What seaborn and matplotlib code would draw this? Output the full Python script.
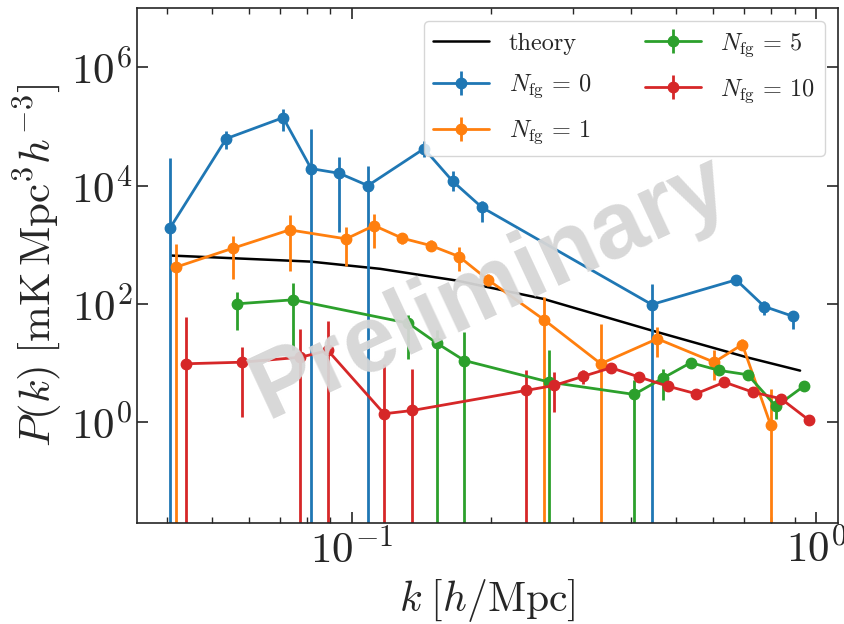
import numpy as np
import matplotlib
matplotlib.use("Agg")
import matplotlib.pyplot as plt
import seaborn as sns
from matplotlib.ticker import NullLocator

# theory curve
k_theory = [0.0410, 0.0814, 0.1152, 0.1684, 0.2588, 0.4428, 0.7094, 0.9239]
p_theory = [658, 521, 393, 249, 122, 35.7, 12.6, 7.5]

# N_fg = 0
k_0 = [0.0407, 0.0537, 0.0712, 0.0818, 0.0941, 0.1084, 0.1432, 0.1651, 0.1907,
       0.4429, 0.6728, 0.7740, 0.8908]
p_0 = [1955, 62100, 140600, 19360, 16130, 10000, 42100, 11820, 4300,
       98, 256, 90.7, 62.2]
lo_0 = [1e-3, 42100, 84800, 1e-3, 1629, 1e-3, 30850, 8010, 2403,
        1e-3, 211, 64, 38.1]
hi_0 = [29700, 84800, 199500, 91600, 30050, 21760, 57450, 17430, 5585,
        219, 311, 114.5, 77.6]

# N_fg = 1
k_1 = [0.0418, 0.0555, 0.0735, 0.0973, 0.1118, 0.1286, 0.1481, 0.1703, 0.1963,
       0.2597, 0.3440, 0.4551, 0.6033, 0.6938, 0.7991]
p_1 = [418, 875, 1787, 1260, 2113, 1291, 971, 634, 259,
       54.1, 9.79, 25.9, 10.4, 20.7, 0.89]
lo_1 = [1e-3, 266, 367, 446, 889, 1050, 778, 367, 205,
        1e-3, 1e-3, 12.6, 5.11, 17.1, 1e-3]
hi_1 = [1038, 1432, 3205, 1978, 3327, 1549, 1212, 934, 327,
        130, 46.3, 40.6, 16.4, 25.2, 3.70]

# N_fg = 5
k_5 = [0.0566, 0.0749, 0.1325, 0.1526, 0.1749, 0.2666, 0.4058, 0.4677, 0.5373,
       0.6190, 0.7129, 0.8203, 0.9436]
p_5 = [100.8, 117.8, 47.4, 21.8, 11.1, 4.79, 2.97, 5.59, 10.2,
       7.55, 6.38, 1.86, 4.16]
lo_5 = [35.7, 16.4, 12.0, 1e-3, 1e-3, 1e-3, 1e-3, 2.35, 8.8,
        6.8, 5.7, 1.15, 3.8]
hi_5 = [158, 224, 64, 35.7, 33.4, 16.9, 5.11, 8.06, 12.0,
        8.4, 7.1, 2.67, 4.6]

# N_fg = 10
k_10 = [0.0440, 0.0580, 0.0775, 0.0889, 0.1175, 0.1351, 0.2375, 0.2729, 0.3146,
        0.3620, 0.4165, 0.4794, 0.5517, 0.6349, 0.7306, 0.8409, 0.9674]
p_10 = [9.79, 10.4, 12.6, 16.4, 1.40, 1.59, 3.47, 4.21, 5.98,
        8.38, 5.82, 4.10, 3.05, 4.79, 3.25, 2.51, 1.08]
lo_10 = [1e-3, 1.23, 1e-3, 1e-3, 1e-3, 1e-3, 1e-3, 1.49, 4.50,
         7.6, 5.3, 3.7, 2.75, 4.3, 2.95, 2.28, 0.98]
hi_10 = [59.8, 18.7, 38.1, 52.6, 9.79, 8.06, 7.55, 7.06, 7.55,
         9.2, 6.4, 4.5, 3.35, 5.3, 3.6, 2.76, 1.19]

labels = [r"$N_{\rm fg}\,=\,0$", r"$N_{\rm fg}\,=\,1$",
          r"$N_{\rm fg}\,=\,5$", r"$N_{\rm fg}\,=\,10$"]

sns.set_style("ticks")
plt.rcParams["font.family"] = "serif"
plt.rcParams["font.serif"] = ["cmr10", "DejaVu Serif"]
plt.rcParams["mathtext.fontset"] = "cm"
plt.rcParams["axes.formatter.use_mathtext"] = True
plt.rcParams["axes.unicode_minus"] = False

colors = sns.color_palette("tab10")

fig = plt.figure(figsize=(8.44, 6.24), dpi=100)
ax = fig.add_axes([137 / 844, 1 - 523 / 624, 701 / 844, 515 / 624])

sns.lineplot(x=k_theory, y=p_theory, color="black", lw=1.8, label="theory", ax=ax)

series = [(k_0, p_0, lo_0, hi_0), (k_1, p_1, lo_1, hi_1),
          (k_5, p_5, lo_5, hi_5), (k_10, p_10, lo_10, hi_10)]
for i, (k, p, lo, hi) in enumerate(series):
    p = np.array(p)
    yerr = [p - np.array(lo), np.array(hi) - p]
    ax.errorbar(k, p, yerr=yerr, fmt="o-", color=colors[i], ms=7.5, lw=2,
                elinewidth=2, capsize=0, label=labels[i])

ax.set_xscale("log")
ax.set_yscale("log")
ax.set_xlim(0.0345, 1.115)
ax.set_ylim(0.02, 1e7)
ax.set_yticks([1e0, 1e2, 1e4, 1e6])
ax.yaxis.set_minor_locator(NullLocator())

ax.tick_params(which="both", direction="in", top=True, right=True, labelsize=31)
ax.tick_params(which="major", length=8, width=1.2)
ax.tick_params(which="minor", length=4, width=1)
for s in ax.spines.values():
    s.set_linewidth(1.2)

ax.set_xlabel(r"$k\;[h/{\rm Mpc}]$", fontsize=30)
ax.set_ylabel(r"$P(k)\;[{\rm mK\,Mpc}^3 h^{-3}]$", fontsize=31, labelpad=4)

ax.legend(loc="upper right", ncol=2, fontsize=17.5, handlelength=2.3,
          labelspacing=0.75, columnspacing=2.2, borderaxespad=0.55)

fig.text(490 / 844, 1 - 288 / 624, "Preliminary", fontsize=68, fontweight="bold",
         family="Liberation Sans", color="#d6d6d6", alpha=0.95, rotation=25,
         ha="center", va="center", zorder=10)

fig.savefig("out.png", dpi=100)
